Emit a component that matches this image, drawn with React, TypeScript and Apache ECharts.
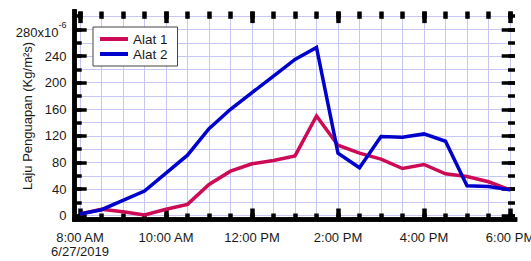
import React, { useEffect, useRef } from 'react';
import * as echarts from 'echarts';

// Half-hourly readings, 08:00 .. 18:00 on 6/27/2019
const timeLabels = [
  '08:00', '08:30', '09:00', '09:30', '10:00', '10:30', '11:00', '11:30',
  '12:00', '12:30', '13:00', '13:30', '14:00', '14:30', '15:00', '15:30',
  '16:00', '16:30', '17:00', '17:30', '18:00',
];
const alat1 = [2.5, 9.6, 6, 1, 9.6, 17, 47, 67, 78, 83, 90, 150, 106, 94, 85, 71, 77, 63, 59, 51, 39];
const alat2 = [2.5, 9, 23, 37, 64, 91, 131, 160, 185, 210, 235, 253, 94, 72, 119, 118, 123, 112, 45, 44, 39];

const seriesNames = ['Alat 1', 'Alat 2'];
const xTickLabels = ['8:00 AM\n6/27/2019', '10:00 AM', '12:00 PM', '2:00 PM', '4:00 PM', '6:00 PM'];
const yTickLabels = ['0', '40', '80', '120', '160', '200', '240', '280x10'];
const yTopExponent = '-6';
const xAxisTitle = 'Waktu (WIB)';
const yAxisTitle = 'Laju Penguapan (Kg/m²s)';

const FONT = '"Liberation Sans", Arial, Helvetica, sans-serif';
const GRID_COLOR = '#c6c6f7';
const RED = '#cc0a55';
const BLUE = '#0000cc';

const toMinutes = (t: string) => {
  const [h, m] = t.split(':').map(Number);
  return (h - 8) * 60 + m;
};

export default function App() {
  const ref = useRef<HTMLDivElement>(null);

  useEffect(() => {
    if (!ref.current) return;
    const chart = echarts.init(ref.current, undefined, { renderer: 'svg' });

    const frameLine = { show: true, lineStyle: { color: '#000', width: 4.5, cap: 'square' } };
    const off = { show: false };
    const g = (left: number, right: number, top: number, bottom: number) => ({
      left, right, top, bottom, containLabel: false, outerBoundsMode: 'none',
    });

    const option: any = {
      animation: false,
      backgroundColor: '#fff',
      textStyle: { fontFamily: FONT, color: '#1a1a1a' },
      grid: [
        g(74.5, 16, 11.5, 42),   // 0 frame
        g(74.5, 16, 16.2, 45.3), // 1 horizontal grid / minor y ticks
        g(74.5, 16, 29.5, 45.3), // 2 major y ticks + labels
        g(80, 21, 11.5, 42),     // 3 vertical grid / x ticks
        g(80, 21, 16.2, 45.3),   // 4 data
        g(80, 21, 11.5, 42),     // 5 x labels + title
      ],
      xAxis: [
        { gridIndex: 0, type: 'value', min: 0, max: 1, position: 'bottom', axisLine: frameLine, axisTick: off, axisLabel: off, splitLine: off },
        { gridIndex: 0, type: 'value', min: 0, max: 1, position: 'top', axisLine: frameLine, axisTick: off, axisLabel: off, splitLine: off },
        { gridIndex: 1, type: 'value', min: 0, max: 1, show: false },
        { gridIndex: 2, type: 'value', min: 0, max: 1, show: false },
        {
          gridIndex: 3, type: 'value', min: 0, max: 600, interval: 30, position: 'bottom',
          axisLine: off,
          axisTick: { show: true, inside: true, length: 5.5, lineStyle: { color: '#000', width: 4.5 } },
          axisLabel: off,
          splitLine: { show: true, lineStyle: { color: GRID_COLOR, width: 1 } },
        },
        {
          gridIndex: 3, type: 'value', min: 0, max: 600, interval: 30, position: 'top',
          axisLine: off,
          axisTick: { show: true, inside: true, length: 7.3, lineStyle: { color: '#000', width: 4.5 } },
          axisLabel: off, splitLine: off,
        },
        {
          gridIndex: 3, type: 'value', min: 0, max: 600, interval: 120, position: 'bottom',
          axisLine: off,
          axisTick: { show: true, inside: true, length: 10.5, lineStyle: { color: '#000', width: 4.5 } },
          axisLabel: off,
          splitLine: off,
        },
        {
          gridIndex: 3, type: 'value', min: 0, max: 600, interval: 120, position: 'top',
          axisLine: off,
          axisTick: { show: true, inside: true, length: 11.6, lineStyle: { color: '#000', width: 4.5 } },
          axisLabel: off, splitLine: off,
        },
        { gridIndex: 4, type: 'value', min: 0, max: 600, show: false },
        {
          gridIndex: 5, type: 'value', min: 0, max: 600, interval: 120, position: 'bottom',
          axisLine: { show: false },
          axisTick: { show: false },
          axisLabel: {
            show: true, margin: 11, fontSize: 13, lineHeight: 14, fontFamily: FONT, color: '#1a1a1a',
            verticalAlign: 'top', hideOverlap: false,
            formatter: (v: number) => xTickLabels[Math.round(v / 120)] ?? '',
          },
          splitLine: off,
          name: xAxisTitle, nameLocation: 'middle', nameGap: 26,
          nameTextStyle: { fontSize: 13, lineHeight: 14, fontFamily: FONT, color: '#1a1a1a' },
        },
      ],
      yAxis: [
        { gridIndex: 0, type: 'value', min: 0, max: 1, position: 'left', axisLine: frameLine, axisTick: off, axisLabel: off, splitLine: off },
        { gridIndex: 0, type: 'value', min: 0, max: 1, position: 'right', axisLine: frameLine, axisTick: off, axisLabel: off, splitLine: off },
        {
          gridIndex: 1, type: 'value', min: 0, max: 300, interval: 20, position: 'left',
          axisLine: off,
          axisTick: { show: true, inside: true, length: 7.2, lineStyle: { color: '#000', width: 3.5 } },
          axisLabel: off,
          splitLine: { show: true, lineStyle: { color: GRID_COLOR, width: 1 } },
          name: yAxisTitle, nameLocation: 'middle', nameRotate: 90, nameGap: 41,
          nameTextStyle: { fontSize: 13, fontFamily: FONT, color: '#1a1a1a' },
        },
        {
          gridIndex: 1, type: 'value', min: 0, max: 300, interval: 20, position: 'right',
          axisLine: off,
          axisTick: { show: true, inside: true, length: 7, lineStyle: { color: '#000', width: 3.5 } },
          axisLabel: off, splitLine: off,
        },
        {
          gridIndex: 2, type: 'value', min: 0, max: 280, interval: 40, position: 'left',
          axisLine: off,
          axisTick: { show: true, inside: true, length: 12.2, lineStyle: { color: '#000', width: 3.5 } },
          axisLabel: {
            show: true, margin: 8, fontSize: 13, fontFamily: FONT, color: '#1a1a1a',
            formatter: (v: number) => {
              const i = Math.round(v / 40);
              if (i === yTickLabels.length - 1) return `{b|${yTickLabels[i]}}{s|${yTopExponent}}`;
              return yTickLabels[i] ?? '';
            },
            rich: {
              b: { fontSize: 13, lineHeight: 13, padding: [5, 0, 0, 0], fontFamily: FONT, color: '#1a1a1a' },
              s: { fontSize: 9, lineHeight: 9, padding: [0, 0, 9, 0], fontFamily: FONT, color: '#1a1a1a' },
            },
          },
          splitLine: off,
        },
        {
          gridIndex: 2, type: 'value', min: 0, max: 280, interval: 40, position: 'right',
          axisLine: off,
          axisTick: { show: true, inside: true, length: 13.3, lineStyle: { color: '#000', width: 3.5 } },
          axisLabel: off, splitLine: off,
        },
        { gridIndex: 3, type: 'value', min: 0, max: 1, show: false },
        { gridIndex: 4, type: 'value', min: 0, max: 300, show: false },
        { gridIndex: 5, type: 'value', min: 0, max: 1, show: false },
      ],
      legend: {
        data: seriesNames,
        orient: 'vertical',
        left: 93,
        top: 27,
        padding: [5, 10, 5, 7],
        itemGap: 1,
        itemWidth: 28,
        itemHeight: 4,
        icon: 'rect',
        backgroundColor: '#fff',
        borderColor: '#444',
        borderWidth: 1,
        textStyle: { fontSize: 13.5, lineHeight: 13.5, fontFamily: FONT, color: '#1a1a1a' },
      },
      series: [
        {
          name: seriesNames[0], type: 'line', xAxisIndex: 8, yAxisIndex: 7,
          data: timeLabels.map((t, i) => [toMinutes(t), alat1[i]]),
          showSymbol: false, symbol: 'none', color: RED,
          lineStyle: { width: 3.5, color: RED, join: 'miter' }, z: 3,
        },
        {
          name: seriesNames[1], type: 'line', xAxisIndex: 8, yAxisIndex: 7,
          data: timeLabels.map((t, i) => [toMinutes(t), alat2[i]]),
          showSymbol: false, symbol: 'none', color: BLUE,
          lineStyle: { width: 3.5, color: BLUE, join: 'miter' }, z: 4,
        },
      ],
    };

    chart.setOption(option);
    return () => chart.dispose();
  }, []);

  return (
    <div
      ref={ref}
      style={{ position: 'fixed', left: 0, top: 0, width: 531, height: 261, background: '#fff' }}
    />
  );
}
